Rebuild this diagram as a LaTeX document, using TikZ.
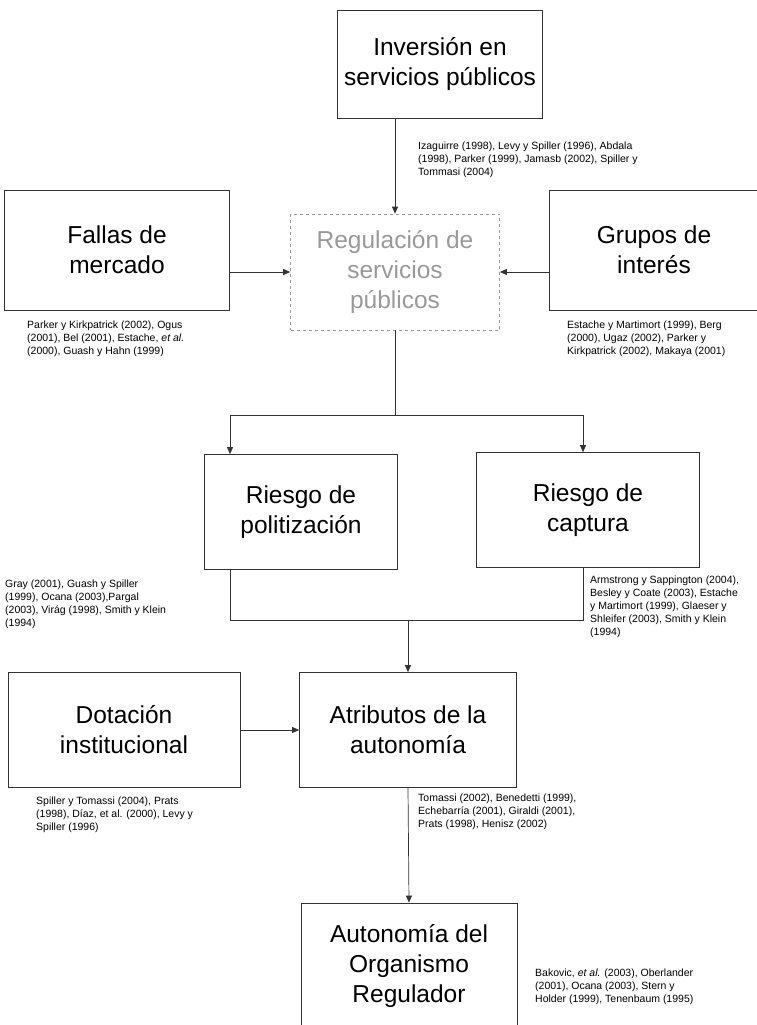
\documentclass[tikz,border=0pt]{standalone}
\usepackage{fontspec}
\setmainfont{Liberation Sans}
\usetikzlibrary{arrows.meta}
\newcommand{\bigfont}{\fontsize{24.5}{30}\selectfont}
\newcommand{\citefont}{\fontsize{10.5}{13}\selectfont}
\begin{document}
\begin{tikzpicture}[x=1pt, y=-1pt,
    box/.style={draw=black!80, line width=0.7pt, align=center, font=\bigfont, inner sep=0pt},
    cite/.style={anchor=north west, align=left, font=\citefont, inner sep=0pt},
    conn/.style={draw=black!80, line width=0.7pt},
    arr/.style={conn, -{Triangle[length=7pt, width=6pt]}}]
    \useasboundingbox (0,0) rectangle (757,1025);
    \clip (0,0) rectangle (757,1025);
    % boxes
    \node[box, minimum width=205, minimum height=108] (inv) at (440, 64) {Inversión en\\servicios públicos};
    \node[box, minimum width=225, minimum height=120] (fal) at (117, 250) {Fallas de\\mercado};
    \node[box, draw=black!40, dashed, text=black!40, minimum width=209, minimum height=116] (reg) at (395, 272) {Regulación de\\servicios\\públicos};
    \node[box, minimum width=210, minimum height=120] (grp) at (654, 250) {Grupos de\\interés};
    \node[box, minimum width=193, minimum height=115] (pol) at (301, 512) {Riesgo de\\politización};
    \node[box, minimum width=223, minimum height=115] (cap) at (588, 510) {Riesgo de\\captura};
    \node[box, minimum width=232, minimum height=115] (dot) at (124, 730) {Dotación\\institucional};
    \node[box, minimum width=217, minimum height=115] (att) at (408, 730) {Atributos de la\\autonomía};
    \node[box, minimum width=216, minimum height=126] (aut) at (409, 966) {Autonomía del\\Organismo\\Regulador};
    % references
    \node[cite] (cinv) at (418, 142) {Izaguirre (1998), Levy y Spiller (1996), Abdala\\(1998), Parker (1999), Jamasb (2002), Spiller y\\Tommasi (2004)};
    \node[cite] (cfal) at (27, 321) {Parker y Kirkpatrick (2002), Ogus\\(2001), Bel (2001), Estache, \textit{et al.}\\(2000), Guash y Hahn (1999)};
    \node[cite] (cgrp) at (567, 321) {Estache y Martimort (1999), Berg\\(2000), Ugaz (2002), Parker y\\Kirkpatrick (2002), Makaya (2001)};
    \node[cite] (cpol) at (5, 580) {Gray (2001), Guash y Spiller\\(1999), Ocana (2003),Pargal\\(2003), Virág (1998), Smith y Klein\\(1994)};
    \node[cite] (ccap) at (590, 576) {Armstrong y Sappington (2004),\\Besley y Coate (2003), Estache\\y Martimort (1999), Glaeser y\\Shleifer (2003), Smith y Klein\\(1994)};
    \node[cite] (cdot) at (36, 797) {Spiller y Tomassi (2004), Prats\\(1998), Díaz, et al. (2000), Levy y\\Spiller (1996)};
    \node[cite] (catt) at (418, 794) {Tomassi (2002), Benedetti (1999),\\Echebarría (2001), Giraldi (2001),\\Prats (1998), Henisz (2002)};
    \node[cite] (caut) at (535, 969) {Bakovic, \textit{et al.} (2003), Oberlander\\(2001), Ocana (2003), Stern y\\Holder (1999), Tenenbaum (1995)};
    % connectors
    \coordinate (lcol) at (230, 415);
    \coordinate (rcol) at (583, 620);
    \draw[arr] (reg.north |- inv.south) -- (reg.north);
    \draw[arr] (fal.east |- reg.west) -- (reg.west);
    \draw[arr] (grp.west |- reg.west) -- (reg.east);
    \draw[conn] (reg.south) -- (reg.south |- lcol);
    \draw[conn] (lcol) -- (rcol |- lcol);
    \draw[arr] (lcol) -- (lcol |- pol.north);
    \draw[arr] (rcol |- lcol) -- (rcol |- cap.north);
    \draw[conn] (lcol |- pol.south) -- (lcol |- rcol) -- (rcol) -- (rcol |- cap.south);
    \draw[arr] (att.north |- rcol) -- (att.north);
    \draw[arr] (dot.east) -- (att.west);
    \draw[arr] (att.south) -- (aut.north);
\end{tikzpicture}
\end{document}
